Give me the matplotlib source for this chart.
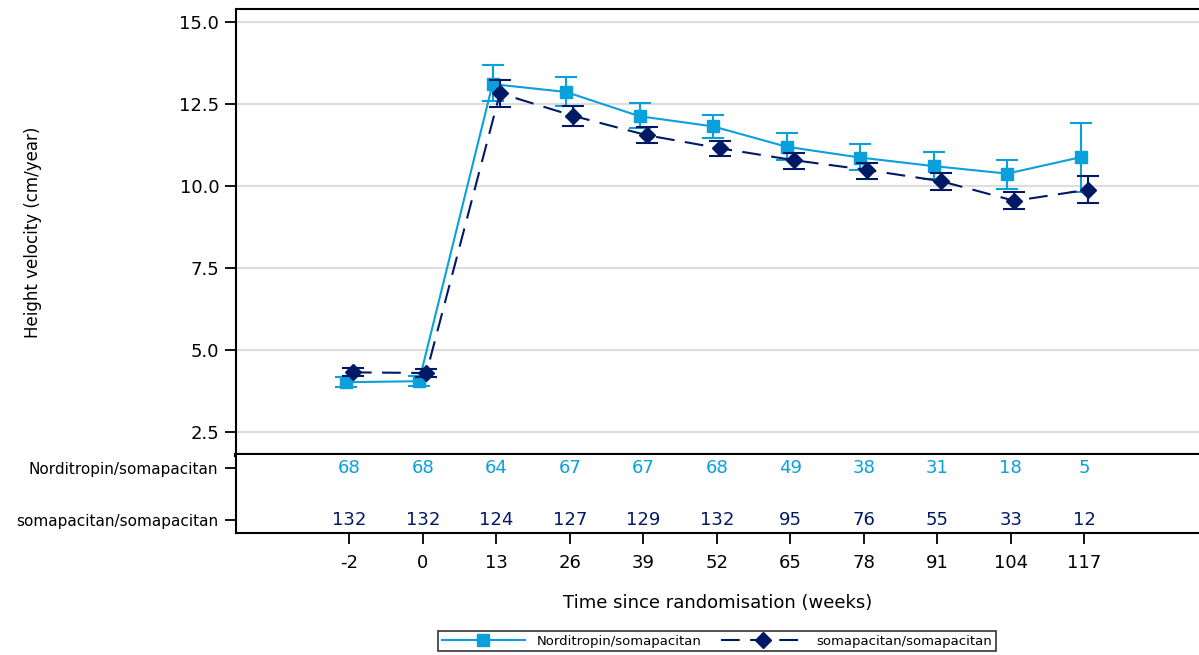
import numpy as np
import matplotlib
matplotlib.use("Agg")
import matplotlib.pyplot as plt
from matplotlib.lines import Line2D

weeks = ["-2", "0", "13", "26", "39", "52", "65", "78", "91", "104", "117"]

nordi_mean = [4.02, 4.05, 13.11, 12.87, 12.13, 11.82, 11.20, 10.87, 10.61, 10.38, 10.88]
nordi_low  = [3.87, 3.90, 12.59, 12.45, 11.77, 11.47, 10.79, 10.49, 10.23, 9.92, 9.83]
nordi_high = [4.18, 4.20, 13.69, 13.32, 12.53, 12.17, 11.61, 11.28, 11.03, 10.81, 11.93]

soma_mean = [4.32, 4.30, 12.83, 12.14, 11.55, 11.15, 10.79, 10.49, 10.15, 9.55, 9.89]
soma_low  = [4.20, 4.18, 12.42, 11.83, 11.30, 10.92, 10.53, 10.22, 9.87, 9.30, 9.47]
soma_high = [4.44, 4.42, 13.23, 12.45, 11.80, 11.36, 11.02, 10.71, 10.40, 9.81, 10.30]

nordi_n = [68, 68, 64, 67, 67, 68, 49, 38, 31, 18, 5]
soma_n = [132, 132, 124, 127, 129, 132, 95, 76, 55, 33, 12]

labels = ["Norditropin/somapacitan", "somapacitan/somapacitan"]
c_light = "#0AA0DC"
c_dark = "#001965"

fig = plt.figure(figsize=(11.99, 6.55), dpi=100)
W, H = 1199, 655
ax = fig.add_axes([236/W, 1-455/H, 1-236/W, (455-9)/H])
axn = fig.add_axes([236/W, 1-533/H, 1-236/W, (533-455)/H])

x = np.arange(len(weeks))
off = 0.05

nm = np.array(nordi_mean); sm = np.array(soma_mean)
ax.errorbar(x-off, nm, yerr=[nm-np.array(nordi_low), np.array(nordi_high)-nm],
            color=c_light, marker="s", ms=9, ls="-", lw=1.5, capsize=8, capthick=1.5,
            elinewidth=1.5, zorder=3)
ax.errorbar(x+off, sm, yerr=[sm-np.array(soma_low), np.array(soma_high)-sm],
            color=c_dark, marker="D", ms=8.5, ls=(0, (9, 5)), lw=1.5, capsize=8, capthick=1.5,
            elinewidth=1.5, zorder=4)

ax.set_xlim(-1.54, 11.56)
ax.set_ylim(1.8, 15.4)
ax.set_yticks([2.5, 5.0, 7.5, 10.0, 12.5, 15.0])
ax.set_yticklabels(["2.5", "5.0", "7.5", "10.0", "12.5", "15.0"])
ax.yaxis.grid(True, color="#DDDDDD", lw=1.5)
ax.set_axisbelow(True)
ax.set_xticks([])
ax.tick_params(axis="y", labelsize=13, length=8, width=1.3, pad=4)
ax.set_ylabel("Height velocity (cm/year)", fontsize=12)
ax.yaxis.set_label_coords(-0.2015, 0.5)
ax.spines["right"].set_visible(False)
ax.spines["left"].set_linewidth(1.5)
ax.spines["top"].set_linewidth(1.5)
ax.spines["bottom"].set_linewidth(3)

axn.set_xlim(-1.54, 11.56)
axn.set_ylim(0, 1)
for i in range(len(weeks)):
    axn.text(x[i], 0.83, str(nordi_n[i]), color=c_light, ha="center", va="center", fontsize=13)
    axn.text(x[i], 0.17, str(soma_n[i]), color=c_dark, ha="center", va="center", fontsize=13)
axn.set_yticks([0.83, 0.17])
axn.set_yticklabels(labels, fontsize=11)
axn.set_xticks(x)
axn.set_xticklabels(weeks, fontsize=13)
axn.tick_params(axis="both", length=8, width=1.3, pad=5)
axn.tick_params(axis="x", pad=7)
axn.spines["right"].set_visible(False)
axn.spines["top"].set_visible(False)
axn.spines["left"].set_linewidth(1.5)
axn.spines["bottom"].set_linewidth(1.5)
axn.set_xlabel("Time since randomisation (weeks)", fontsize=13, labelpad=16)

handles = [
    Line2D([], [], color=c_light, marker="s", ms=9, ls="-", lw=1.5),
    Line2D([], [], color=c_dark, marker="D", ms=8.5, ls=(0, (9, 5)), lw=1.5),
]
leg = fig.legend(handles, labels, loc="center", bbox_to_anchor=(717/W, 1-641/H),
                 ncol=2, fontsize=9.5, frameon=True, fancybox=False, handlelength=6.3,
                 columnspacing=1.5, borderpad=0.3, handletextpad=0.9)
leg.get_frame().set_edgecolor("black")
leg.get_frame().set_linewidth(1.2)

fig.savefig("out.png", dpi=100)
